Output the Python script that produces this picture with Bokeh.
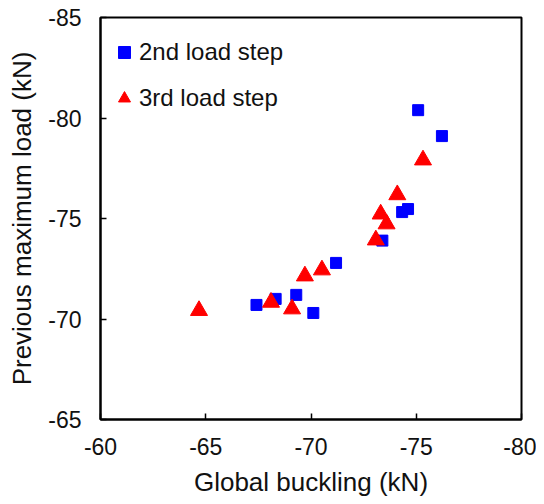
from bokeh.plotting import figure
from bokeh.models import Range1d, Legend, LegendItem, FixedTicker
from bokeh.embed import file_html
from bokeh.resources import INLINE

# Data
step2_x = [-75.09, -76.22, -74.33, -74.61, -73.39, -71.19, -69.30, -70.11, -68.32, -67.41]
step2_y = [-80.39, -79.10, -75.32, -75.47, -73.90, -72.79, -71.20, -70.30, -71.00, -70.70]
step3_x = [-75.32, -74.10, -73.31, -73.59, -73.08, -70.52, -69.71, -68.10, -69.10, -64.68]
step3_y = [-77.91, -76.18, -75.22, -74.73, -73.93, -72.44, -72.14, -70.83, -70.50, -70.42]
x_ticks = [-60, -65, -70, -75, -80]
y_ticks = [-65, -70, -75, -80, -85]
series_names = ["2nd load step", "3rd load step"]

FONT = "Liberation Sans"

p = figure(width=536, height=504, output_backend="svg", toolbar_location=None,
           x_range=Range1d(-60, -80), y_range=Range1d(-65, -85),
           min_border_left=100, min_border_right=15, min_border_top=17, min_border_bottom=85)

p.xgrid.visible = False
p.ygrid.visible = False
p.outline_line_color = "black"
p.outline_line_width = 2
p.background_fill_color = "white"
p.border_fill_color = "white"

for ax, ticks in ((p.xaxis[0], x_ticks), (p.yaxis[0], y_ticks)):
    ax.ticker = FixedTicker(ticks=ticks)
    ax.major_label_overrides = {t: str(t) for t in ticks}
    ax.minor_tick_line_color = None
    ax.major_tick_in = 6
    ax.major_tick_out = 0
    ax.major_tick_line_width = 1.5
    ax.major_tick_line_color = "black"
    ax.axis_line_width = 2
    ax.axis_line_color = "black"
    ax.major_label_text_font = FONT
    ax.major_label_text_font_size = "23px"
    ax.major_label_text_color = "#111111"
    ax.axis_label_text_font = FONT
    ax.axis_label_text_font_size = "26px"
    ax.axis_label_text_font_style = "normal"
    ax.axis_label_text_color = "#111111"

p.xaxis[0].axis_label = "Global buckling (kN)"
p.yaxis[0].axis_label = "Previous maximum load (kN)"
p.xaxis[0].major_label_standoff = 18
p.xaxis[0].axis_label_standoff = 9
p.yaxis[0].major_label_standoff = 19
p.yaxis[0].axis_label_standoff = 8

r2 = p.scatter(step2_x, step2_y, marker="square", size=11, fill_color="#0000FF", line_color="#0000FF")
r3 = p.scatter(step3_x, step3_y, marker="triangle", size=17, fill_color="#FF0000", line_color="#FF0000")

legend = Legend(items=[LegendItem(label=series_names[0], renderers=[r2]),
                       LegendItem(label=series_names[1], renderers=[r3])],
                location=(9, 306), orientation="vertical",
                glyph_width=30, glyph_height=30, label_height=30,
                spacing=16, padding=0, margin=0, label_standoff=0,
                border_line_color=None, background_fill_alpha=0,
                label_text_font=FONT, label_text_font_size="24px", label_text_color="#111111")
p.add_layout(legend, "center")

open("out.html", "w").write(file_html(p, INLINE))
